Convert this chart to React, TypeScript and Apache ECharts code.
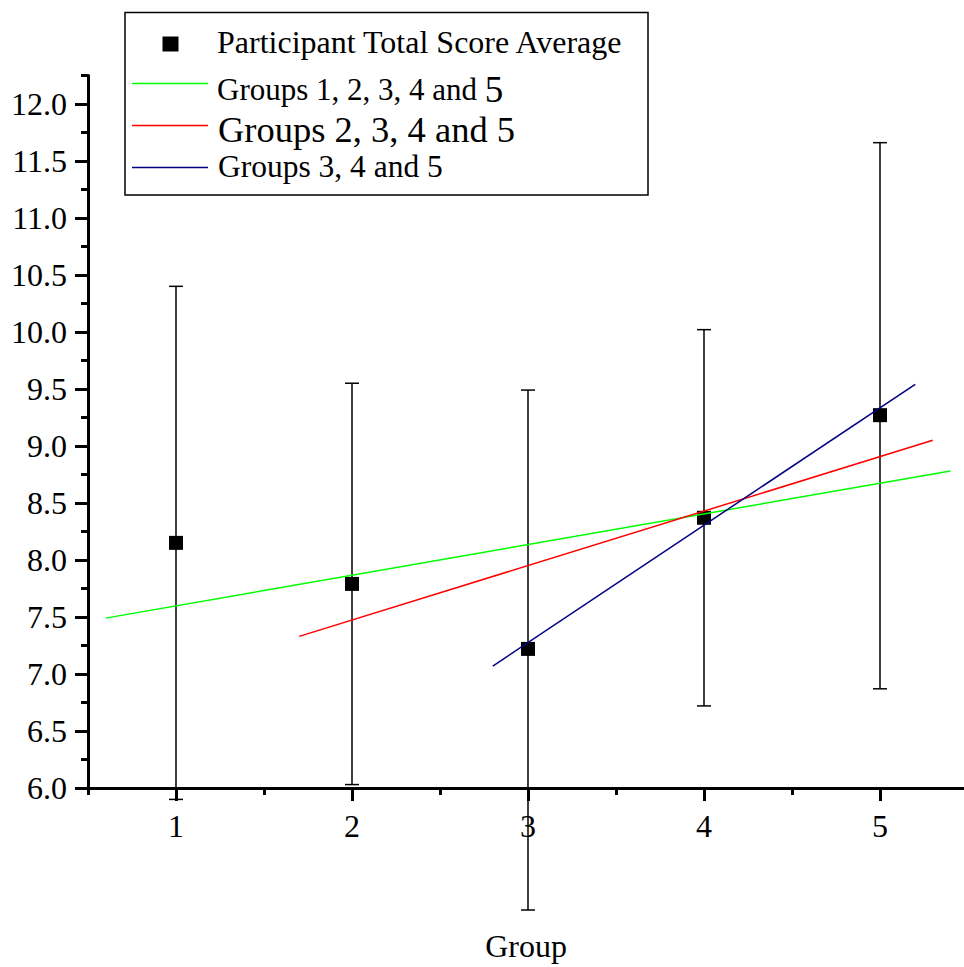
import React, { useEffect, useRef } from "react";
import * as echarts from "echarts";

const groups = [1, 2, 3, 4, 5];
const means = [8.15, 7.79, 7.22, 8.37, 9.27];
const errLow = [5.9, 6.03, 4.93, 6.72, 6.87];
const errHigh = [10.4, 9.55, 9.49, 10.02, 11.66];

const fitAll = [
  [0.6, 7.49],
  [5.4, 8.78],
];
const fit2to5 = [
  [1.7, 7.33],
  [5.3, 9.05],
];
const fit3to5 = [
  [2.8, 7.07],
  [5.2, 9.54],
];

const xMajorTicks = [1, 2, 3, 4, 5];
const xMinorTicks = [0.5, 1.5, 2.5, 3.5, 4.5];
const yMajorTicks = [6.0, 6.5, 7.0, 7.5, 8.0, 8.5, 9.0, 9.5, 10.0, 10.5, 11.0, 11.5, 12.0];
const yMinorTicks = [6.25, 6.75, 7.25, 7.75, 8.25, 8.75, 9.25, 9.75, 10.25, 10.75, 11.25, 11.75, 12.25];

const seriesNames = [
  "Participant Total Score Average",
  "Groups 1, 2, 3, 4 and 5",
  "Groups 2, 3, 4 and 5",
  "Groups 3, 4 and 5",
];

const FONT = '"Liberation Serif", "Times New Roman", serif';

export default function App() {
  const ref = useRef<HTMLDivElement>(null);

  useEffect(() => {
    if (!ref.current) return;
    const chart = echarts.init(ref.current, null, { renderer: "svg" });
    const labelStyle = { fontSize: 32, fontFamily: FONT, color: "#000" };
    const option: any = {
      animation: false,
      backgroundColor: "#fff",
      grid: { left: 88, top: 75.4, right: 0, bottom: 177 },
      xAxis: [
        {
          type: "value",
          min: 0.5,
          max: 5.4773,
          position: "bottom",
          axisLine: { show: true, onZero: false, lineStyle: { color: "#000", width: 3 } },
          axisTick: { show: true, customValues: xMajorTicks, length: 13, lineStyle: { color: "#000", width: 3 } },
          axisLabel: { show: true, customValues: xMajorTicks, margin: 22, ...labelStyle },
          splitLine: { show: false },
          name: "Group",
          nameLocation: "middle",
          nameGap: 142,
          nameTextStyle: labelStyle,
        },
        {
          type: "value",
          min: 0.5,
          max: 5.4773,
          position: "bottom",
          axisLine: { show: false, onZero: false },
          axisTick: { show: true, customValues: xMinorTicks, length: 7, lineStyle: { color: "#000", width: 3 } },
          axisLabel: { show: false },
          splitLine: { show: false },
        },
      ],
      yAxis: [
        {
          type: "value",
          min: 6,
          max: 12.25,
          position: "left",
          axisLine: { show: true, onZero: false, lineStyle: { color: "#000", width: 3 } },
          axisTick: { show: true, customValues: yMajorTicks, length: 13, lineStyle: { color: "#000", width: 3 } },
          axisLabel: {
            show: true,
            customValues: yMajorTicks,
            margin: 21,
            formatter: (v: number) => v.toFixed(1),
            ...labelStyle,
          },
          splitLine: { show: false },
        },
        {
          type: "value",
          min: 6,
          max: 12.25,
          position: "left",
          axisLine: { show: false, onZero: false },
          axisTick: { show: true, customValues: yMinorTicks, length: 7, lineStyle: { color: "#000", width: 3 } },
          axisLabel: { show: false },
          splitLine: { show: false },
        },
      ],
      series: [
        {
          type: "custom",
          name: "error",
          clip: false,
          z: 2,
          data: groups.map((g, i) => [g, errLow[i], errHigh[i]]),
          encode: { x: 0, y: [1, 2] },
          renderItem: (params: any, api: any) => {
            const x = api.value(0);
            const lo = api.coord([x, api.value(1)]);
            const hi = api.coord([x, api.value(2)]);
            const style = { stroke: "#000", lineWidth: 1.5 };
            const hw = 7;
            return {
              type: "group",
              children: [
                { type: "line", shape: { x1: lo[0], y1: lo[1], x2: hi[0], y2: hi[1] }, style },
                { type: "line", shape: { x1: hi[0] - hw, y1: hi[1], x2: hi[0] + hw, y2: hi[1] }, style },
                { type: "line", shape: { x1: lo[0] - hw, y1: lo[1], x2: lo[0] + hw, y2: lo[1] }, style },
              ],
            };
          },
        },
        {
          type: "scatter",
          name: seriesNames[0],
          z: 3,
          symbol: "rect",
          symbolSize: 14,
          itemStyle: { color: "#000", opacity: 1 },
          data: groups.map((g, i) => [g, means[i]]),
        },
        {
          type: "line",
          name: seriesNames[1],
          z: 4,
          symbol: "none",
          showSymbol: false,
          lineStyle: { color: "#00ff00", width: 1.5 },
          data: fitAll,
        },
        {
          type: "line",
          name: seriesNames[2],
          z: 4,
          symbol: "none",
          showSymbol: false,
          lineStyle: { color: "#ff0000", width: 1.5 },
          data: fit2to5,
        },
        {
          type: "line",
          name: seriesNames[3],
          z: 4,
          symbol: "none",
          showSymbol: false,
          lineStyle: { color: "#000080", width: 1.5 },
          data: fit3to5,
        },
      ],
      graphic: [
        {
          type: "rect",
          shape: { x: 125, y: 12.5, width: 523, height: 182.5 },
          style: { fill: "#fff", stroke: "#000", lineWidth: 1.5 },
          z: 10,
        },
        {
          type: "rect",
          shape: { x: 162.5, y: 36.5, width: 16, height: 15 },
          style: { fill: "#000" },
          z: 11,
        },
        {
          type: "text",
          x: 217,
          y: 41.5,
          z: 11,
          style: { text: seriesNames[0], font: `32px ${FONT}`, fill: "#000", verticalAlign: "middle" },
        },
        {
          type: "line",
          shape: { x1: 132, y1: 83.5, x2: 208, y2: 83.5 },
          style: { stroke: "#00ff00", lineWidth: 1.5 },
          z: 11,
        },
        {
          type: "text",
          x: 217,
          y: 89,
          z: 11,
          style: {
            text: "{a|Groups 1, 2, 3, 4 and }{b|5}",
            fill: "#000",
            verticalAlign: "middle",
            rich: {
              a: { fontSize: 31, fontFamily: FONT, fill: "#000" },
              b: { fontSize: 37, fontFamily: FONT, fill: "#000" },
            },
          },
        },
        {
          type: "line",
          shape: { x1: 132, y1: 125.5, x2: 208, y2: 125.5 },
          style: { stroke: "#ff0000", lineWidth: 1.5 },
          z: 11,
        },
        {
          type: "text",
          x: 218,
          y: 129,
          z: 11,
          style: { text: seriesNames[2], font: `36.5px ${FONT}`, fill: "#000", verticalAlign: "middle" },
        },
        {
          type: "line",
          shape: { x1: 132, y1: 167.5, x2: 208, y2: 167.5 },
          style: { stroke: "#000080", lineWidth: 1.5 },
          z: 11,
        },
        {
          type: "text",
          x: 218,
          y: 166.5,
          z: 11,
          style: { text: seriesNames[3], font: `31.5px ${FONT}`, fill: "#000", verticalAlign: "middle" },
        },
      ],
    };
    chart.setOption(option);
    return () => chart.dispose();
  }, []);

  return (
    <div
      ref={ref}
      style={{ position: "fixed", left: 0, top: 0, width: 964, height: 967, background: "#fff" }}
    />
  );
}
